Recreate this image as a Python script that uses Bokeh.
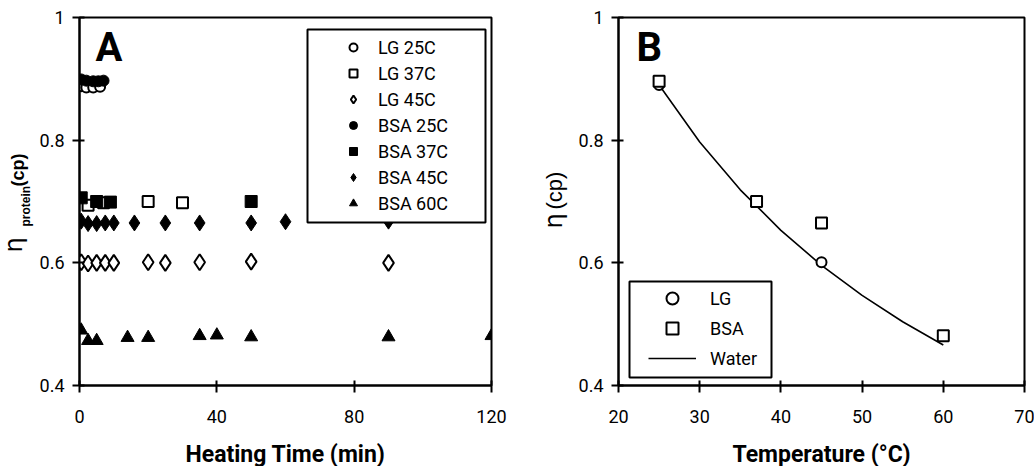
import numpy as np
from bokeh.plotting import figure
from bokeh.layouts import row
from bokeh.models import FixedTicker, Label, Legend, LegendItem, BoxAnnotation
from bokeh.embed import file_html
from bokeh.resources import INLINE

# ---------------- Panel A data: viscosity vs heating time ----------------
lg25_t = [0.5, 2, 4, 6]
lg25_v = [0.888, 0.886, 0.886, 0.887]
lg37_t = [2.5, 7, 20, 30]
lg37_v = [0.694, 0.698, 0.700, 0.698]
lg45_t = [0.5, 2.5, 5, 7.5, 10, 20, 25, 35, 50, 90]
lg45_v = [0.601, 0.599, 0.600, 0.600, 0.600, 0.601, 0.600, 0.601, 0.602, 0.600]
bsa25_t = [0.5, 2, 4, 5.5, 7]
bsa25_v = [0.899, 0.897, 0.896, 0.896, 0.897]
bsa37_t = [0.5, 5, 9, 50]
bsa37_v = [0.706, 0.700, 0.699, 0.700]
bsa45_t = [0.5, 2.5, 5, 7.5, 10, 16, 25, 35, 50, 60, 90]
bsa45_v = [0.668, 0.664, 0.664, 0.665, 0.665, 0.665, 0.665, 0.665, 0.665, 0.667, 0.668]
bsa60_t = [0.5, 2.5, 5, 14, 20, 35, 40, 50, 90, 120]
bsa60_v = [0.490, 0.473, 0.473, 0.478, 0.478, 0.481, 0.482, 0.479, 0.479, 0.481]

a_xticks = [0, 40, 80, 120]
yticks = [0.4, 0.6, 0.8, 1]

# ---------------- Panel B data: viscosity vs temperature ----------------
temp_lg = [25, 37, 45]
eta_lg = [0.890, 0.700, 0.601]
temp_bsa = [25, 37, 45, 60]
eta_bsa = [0.896, 0.700, 0.665, 0.481]
water_t = [25, 30, 35, 40, 45, 50, 55, 60]
water_eta = [0.890, 0.797, 0.719, 0.653, 0.596, 0.547, 0.504, 0.466]

b_xticks = [20, 30, 40, 50, 60, 70]

FONT = "Roboto, sans-serif"
BFONT = "'Liberation Sans', Arial, sans-serif"
GFONT = "'DejaVu Sans', sans-serif"
H = 466


def style(p, xticks, yticks):
    p.xgrid.visible = False
    p.ygrid.visible = False
    p.outline_line_color = "black"
    p.outline_line_width = 2
    p.outline_line_alpha = 1
    p.background_fill_color = "white"
    p.border_fill_color = "white"
    p.xaxis.ticker = FixedTicker(ticks=xticks)
    p.yaxis.ticker = FixedTicker(ticks=yticks)
    for ax in (p.xaxis[0], p.yaxis[0]):
        ax.axis_line_width = 2
        ax.axis_line_color = "black"
        ax.major_tick_in = 5
        ax.major_tick_out = 7
        ax.major_tick_line_width = 2
        ax.major_tick_line_color = "black"
        ax.minor_tick_line_color = None
        ax.major_label_text_font = FONT
        ax.major_label_text_font_size = "18px"
        ax.major_label_text_color = "black"
        ax.axis_label_text_font = FONT
        ax.axis_label_text_font_size = "23px"
        ax.axis_label_text_font_style = "bold"
        ax.axis_label_text_color = "black"
    p.xaxis.major_label_standoff = 17
    p.xaxis.axis_label_standoff = 15
    p.yaxis.major_label_standoff = 8
    p.yaxis.major_label_overrides = {1: "1"}


def label_strip(width):
    """Narrow blank figure that carries the rotated y-axis title texts."""
    s = figure(width=width, height=H, x_range=(0, width), y_range=(0, H),
               output_backend="svg", toolbar_location=None,
               x_axis_type=None, y_axis_type=None,
               min_border_left=0, min_border_right=0, min_border_top=0, min_border_bottom=0)
    s.outline_line_color = None
    s.xgrid.visible = False
    s.ygrid.visible = False
    s.background_fill_color = "white"
    s.border_fill_color = "white"
    return s


def vlabel(s, x, y, text, font, size, style="normal"):
    # y measured upward from the bottom of the (row-aligned) plot frame
    s.add_layout(Label(x=x, y=y, x_units="screen", y_units="screen", text=text,
                       angle=np.pi / 2, text_color="black", text_font=font,
                       text_font_size=size, text_font_style=style))


open_kw = dict(line_color="black", line_width=2, fill_color="white")
fill_kw = dict(line_color="black", line_width=1, fill_color="black")
box_kw = dict(left_units="screen", right_units="screen", top_units="screen", bottom_units="screen",
              fill_color="white", fill_alpha=1, line_color="black", line_alpha=1, line_width=2,
              level="annotation")

# ---------------- y title strip for panel A: eta_protein (cp) ----------------
sA = label_strip(35)
vlabel(sA, 27, 129, "η", GFONT, "24px")
vlabel(sA, 32, 155, "protein", BFONT, "12px", "bold")
vlabel(sA, 27, 195, "(cp)", BFONT, "18px", "bold")

# ---------------- Panel A ----------------
pA = figure(frame_width=412, frame_height=368, x_range=(0, 120), y_range=(0.4, 1),
            output_backend="svg", toolbar_location=None,
            min_border_left=44, min_border_right=49, min_border_top=17, min_border_bottom=81)
style(pA, a_xticks, yticks)
pA.xaxis.axis_label = "Heating Time (min)"

rA = []
rA.append(("LG 25C", pA.scatter(lg25_t, lg25_v, marker="circle", size=10, **open_kw)))
rA.append(("LG 37C", pA.scatter(lg37_t, lg37_v, marker="square", size=11, **open_kw)))
rA.append(("LG 45C", pA.scatter(lg45_t, lg45_v, marker="diamond", size=16, **open_kw)))
rA.append(("BSA 25C", pA.scatter(bsa25_t, bsa25_v, marker="circle", size=11, **fill_kw)))
rA.append(("BSA 37C", pA.scatter(bsa37_t, bsa37_v, marker="square", size=12, **fill_kw)))
rA.append(("BSA 45C", pA.scatter(bsa45_t, bsa45_v, marker="diamond", size=16, **fill_kw)))
rA.append(("BSA 60C", pA.scatter(bsa60_t, bsa60_v, marker="triangle", size=13, **fill_kw)))

pA.add_layout(BoxAnnotation(left=228, right=406, top=356, bottom=163, **box_kw))
legA = Legend(items=[LegendItem(label=n, renderers=[r]) for n, r in rA],
              location=(264, 169), padding=0, margin=0, spacing=0,
              glyph_width=20, glyph_height=26, label_height=26, label_standoff=15,
              label_text_font=FONT, label_text_font_size="18px", label_text_color="black",
              border_line_alpha=0, background_fill_alpha=0)
pA.add_layout(legA, "center")

pA.add_layout(Label(x=16, y=315, x_units="screen", y_units="screen", text="A", text_color="black",
                    text_font=FONT, text_font_size="40px", text_font_style="bold"))

# ---------------- y title strip for panel B: eta (cp) ----------------
sB = label_strip(34)
vlabel(sB, 27, 153, "η", GFONT, "24px")
vlabel(sB, 26, 172, "(cp)", BFONT, "22px")

# ---------------- Panel B ----------------
pB = figure(frame_width=406, frame_height=368, x_range=(20, 70), y_range=(0.4, 1),
            output_backend="svg", toolbar_location=None,
            min_border_left=44, min_border_right=10, min_border_top=17, min_border_bottom=81)
style(pB, b_xticks, yticks)
pB.xaxis.axis_label = "Temperature (°C)"

rW = pB.line(water_t, water_eta, line_color="black", line_width=1.6)
rLG = pB.scatter(temp_lg, eta_lg, marker="circle", size=10, **open_kw)
rBSA = pB.scatter(temp_bsa, eta_bsa, marker="square", size=11, **open_kw)

pB.add_layout(BoxAnnotation(left=11, right=153, top=104, bottom=8, **box_kw))
legB = Legend(items=[LegendItem(label="LG", renderers=[rLG]),
                     LegendItem(label="BSA", renderers=[rBSA]),
                     LegendItem(label="Water", renderers=[rW])],
              location=(30, 12), padding=0, margin=0, spacing=0,
              glyph_width=48, glyph_height=30, label_height=30, label_standoff=14,
              label_text_font=FONT, label_text_font_size="18px", label_text_color="black",
              border_line_alpha=0, background_fill_alpha=0)
pB.add_layout(legB, "center")

pB.add_layout(Label(x=18, y=315, x_units="screen", y_units="screen", text="B", text_color="black",
                    text_font=FONT, text_font_size="40px", text_font_style="bold"))

layout = row(sA, pA, sB, pB)
open("out.html", "w").write(file_html(layout, INLINE))
